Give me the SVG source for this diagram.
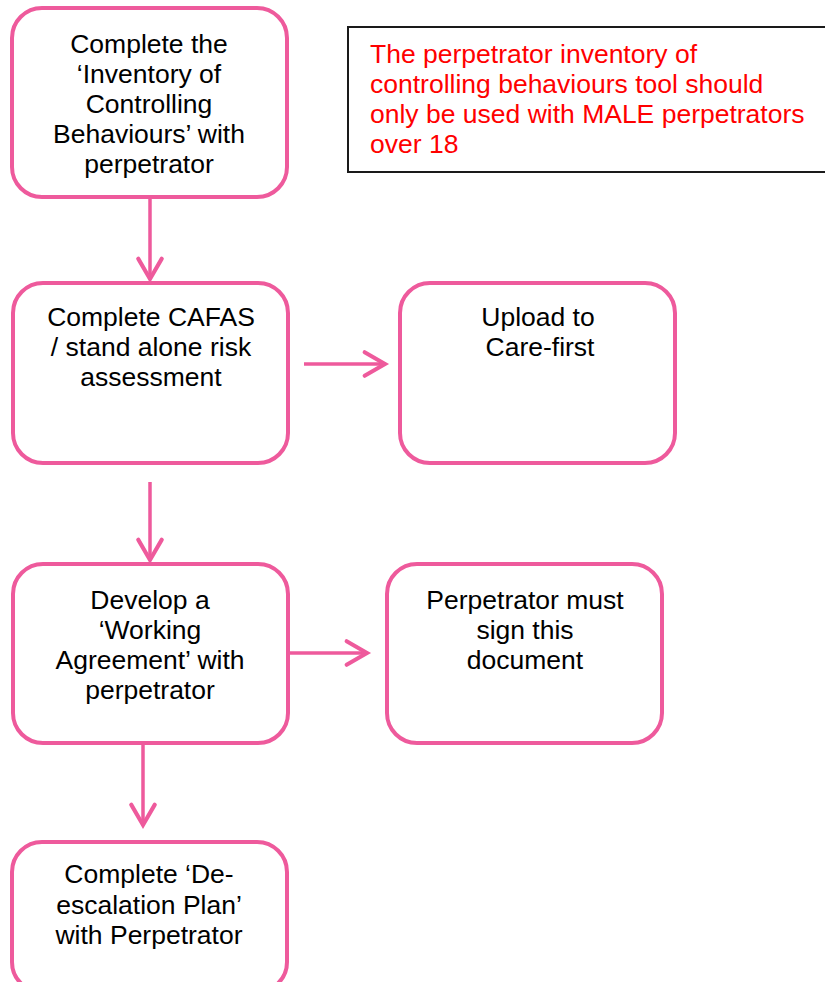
<svg xmlns="http://www.w3.org/2000/svg" width="825" height="982" viewBox="0 0 825 982">
  <defs>
    <style>
      .box { fill: #ffffff; stroke: #EE5A9C; stroke-width: 4; }
      .note { fill: #ffffff; stroke: #1a1a1a; stroke-width: 2; }
      .label { font-family: "Liberation Sans", Arial, sans-serif; font-size: 26.5px; fill: #000000; text-anchor: middle; }
      .warn { font-family: "Liberation Sans", Arial, sans-serif; font-size: 26.5px; fill: #FF0000; }
      .link { fill: none; stroke: #EE5A9C; stroke-width: 3.5; }
      .head { fill: none; stroke: #EE5A9C; stroke-width: 3.8; stroke-linecap: round; stroke-linejoin: miter; }
    </style>
    <marker id="chevron" markerUnits="userSpaceOnUse" markerWidth="30" markerHeight="30" refX="0" refY="0" viewBox="-22 -14 26 28" orient="auto">
      <path class="head" d="M -19 -11 L 0 0 L -19 11"/>
    </marker>
  </defs>

  <!-- connectors -->
  <g id="connectors">
    <line class="link" x1="150" y1="197" x2="150" y2="279" marker-end="url(#chevron)"/>
    <line class="link" x1="304" y1="364" x2="385" y2="364" marker-end="url(#chevron)"/>
    <line class="link" x1="150" y1="482" x2="150" y2="560" marker-end="url(#chevron)"/>
    <line class="link" x1="288" y1="653" x2="367" y2="653" marker-end="url(#chevron)"/>
    <line class="link" x1="143" y1="743" x2="143" y2="825" marker-end="url(#chevron)"/>
  </g>

  <!-- step 1 -->
  <g id="inventory">
    <rect class="box" x="12" y="8" width="275" height="189" rx="30" ry="30"/>
    <text class="label" x="149" y="53">Complete the</text>
    <text class="label" x="149" y="83">‘Inventory of</text>
    <text class="label" x="149" y="113">Controlling</text>
    <text class="label" x="149" y="143">Behaviours’ with</text>
    <text class="label" x="149" y="173">perpetrator</text>
  </g>

  <!-- warning note -->
  <g id="note">
    <rect class="note" x="348" y="27" width="490" height="145"/>
    <text class="warn" x="370" y="63">The perpetrator inventory of</text>
    <text class="warn" x="370" y="93">controlling behaviours tool should</text>
    <text class="warn" x="370" y="123">only be used with MALE perpetrators</text>
    <text class="warn" x="370" y="153">over 18</text>
  </g>

  <!-- step 2 -->
  <g id="cafas">
    <rect class="box" x="13" y="283" width="275" height="180" rx="30" ry="30"/>
    <text class="label" x="151" y="326">Complete CAFAS</text>
    <text class="label" x="151" y="356">/ stand alone risk</text>
    <text class="label" x="151" y="386">assessment</text>
  </g>

  <!-- upload -->
  <g id="upload">
    <rect class="box" x="400" y="283" width="275" height="180" rx="30" ry="30"/>
    <text class="label" x="538" y="326">Upload to</text>
    <text class="label" x="540" y="356">Care-first</text>
  </g>

  <!-- step 3 -->
  <g id="agreement">
    <rect class="box" x="13" y="564" width="275" height="179" rx="30" ry="30"/>
    <text class="label" x="150" y="609">Develop a</text>
    <text class="label" x="150" y="639">‘Working</text>
    <text class="label" x="150" y="669">Agreement’ with</text>
    <text class="label" x="150" y="699">perpetrator</text>
  </g>

  <!-- signature -->
  <g id="sign">
    <rect class="box" x="387" y="564" width="275" height="179" rx="30" ry="30"/>
    <text class="label" x="525" y="609">Perpetrator must</text>
    <text class="label" x="525" y="639">sign this</text>
    <text class="label" x="525" y="669">document</text>
  </g>

  <!-- step 4 -->
  <g id="deescalation">
    <rect class="box" x="12" y="842" width="275" height="150" rx="30" ry="30"/>
    <text class="label" x="149" y="883">Complete ‘De-</text>
    <text class="label" x="149" y="914">escalation Plan’</text>
    <text class="label" x="149" y="944">with Perpetrator</text>
  </g>
</svg>
